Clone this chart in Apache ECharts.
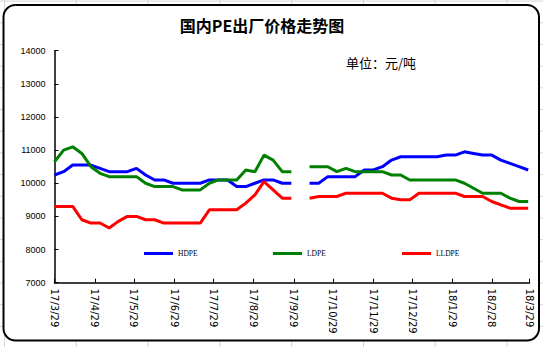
<!DOCTYPE html>
<html>
<head>
<meta charset="utf-8">
<script src="https://cdn.jsdelivr.net/npm/echarts@6/dist/echarts.min.js"></script>
<style>
html,body{margin:0;padding:0;width:543px;height:347px;overflow:hidden;}
body{
  background-color:#fff;
  background-image:linear-gradient(to right,#d4d4d4 1px,transparent 1px),linear-gradient(to bottom,#d4d4d4 1px,transparent 1px);
  background-size:71.8px 21.7px;
  background-position:4px 0.6px;
}
#chart{width:543px;height:347px;}
</style>
</head>
<body>
<div id="chart"></div>
<script>
const weekDates = [
  '2017-03-29','2017-04-05','2017-04-12','2017-04-19','2017-04-26','2017-05-03','2017-05-10','2017-05-17','2017-05-24','2017-05-31',
  '2017-06-07','2017-06-14','2017-06-21','2017-06-28','2017-07-05','2017-07-12','2017-07-19','2017-07-26','2017-08-02','2017-08-09',
  '2017-08-16','2017-08-23','2017-08-30','2017-09-06','2017-09-13','2017-09-20','2017-09-27','2017-10-04','2017-10-11','2017-10-18',
  '2017-10-25','2017-11-01','2017-11-08','2017-11-15','2017-11-22','2017-11-29','2017-12-06','2017-12-13','2017-12-20','2017-12-27',
  '2018-01-03','2018-01-10','2018-01-17','2018-01-24','2018-01-31','2018-02-07','2018-02-14','2018-02-21','2018-02-28','2018-03-07',
  '2018-03-14','2018-03-21','2018-03-28'
];
const hdpe = [
  10250,10350,10550,10550,10550,10450,10350,10350,10350,10450,
  10250,10100,10100,10000,10000,10000,10000,10100,10100,10100,
  9900,9900,10000,10100,10100,10000,10000,null,10000,10000,
  10200,10200,10200,10200,10400,10400,10500,10700,10800,10800,
  10800,10800,10800,10850,10850,10950,10900,10850,10850,10700,
  10600,10500,10400
];
const ldpe = [
  10650,11000,11100,10900,10500,10300,10200,10200,10200,10200,
  10000,9900,9900,9900,9800,9800,9800,10000,10100,10100,
  10100,10400,10350,10850,10700,10350,10350,null,10500,10500,
  10500,10350,10450,10350,10350,10350,10350,10250,10250,10100,
  10100,10100,10100,10100,10100,10000,9850,9700,9700,9700,
  9550,9450,9450
];
const lldpe = [
  9300,9300,9300,8900,8800,8800,8650,8850,9000,9000,
  8900,8900,8800,8800,8800,8800,8800,9200,9200,9200,
  9200,9400,9650,10050,9800,9550,9550,null,9550,9600,
  9600,9600,9700,9700,9700,9700,9700,9550,9500,9500,
  9700,9700,9700,9700,9700,9600,9600,9600,9450,9350,
  9250,9250,9250
];
const tickDates = [
  '2017-03-29','2017-04-29','2017-05-29','2017-06-29','2017-07-29','2017-08-29','2017-09-29',
  '2017-10-29','2017-11-29','2017-12-29','2018-01-29','2018-02-28','2018-03-29'
];
const seriesNames = ['HDPE','LDPE','LLDPE'];
const titleText = '国内PE出厂价格走势图';
const unitText = '单位：元/吨';

const DAY = 86400000;
function toDate(s){const p=s.split('-');return new Date(Date.UTC(+p[0],+p[1]-1,+p[2]));}
const t0 = toDate(tickDates[0]).getTime();
function dayNum(s){return Math.round((toDate(s).getTime()-t0)/DAY);}
function pairs(vals){return weekDates.map((d,i)=>[dayNum(d),vals[i]]);}
function fmt(v){const d=new Date(t0+v*DAY);return String(d.getUTCFullYear()).slice(2)+'/'+(d.getUTCMonth()+1)+'/'+d.getUTCDate();}
const tickDays = tickDates.map(dayNum);

const chart = echarts.init(document.getElementById('chart'), null, {renderer:'svg'});
const colors = ['#0000FF','#008000','#FF0000'];
const legendLefts = [144, 273, 402];

chart.setOption({
  animation:false,
  backgroundColor:'transparent',
  graphic:[{
    type:'rect', z:-10, silent:true,
    shape:{x:3.5,y:5,width:535.5,height:335.5,r:12},
    style:{fill:'#fff',stroke:'#000',lineWidth:2}
  }],
  title:[
    {text:titleText,left:262,top:17,textAlign:'center',padding:0,
     textStyle:{fontSize:16,fontWeight:'bold',color:'#000',fontFamily:'"Noto Sans CJK SC", sans-serif'}},
    {text:unitText,left:346,top:56,padding:0,
     textStyle:{fontSize:13,fontWeight:'normal',color:'#000',fontFamily:'"Noto Sans CJK SC", sans-serif'}}
  ],
  legend: seriesNames.map((n,i)=>({
    data:[n], left:legendLefts[i], top:249.5, padding:0,
    icon:'rect', itemWidth:29, itemHeight:3,
    textStyle:{fontSize:7.5,color:'#000',fontFamily:'"Liberation Serif", serif'}
  })),
  grid:{left:54.5,right:13.5,top:50.7,bottom:64.3,containLabel:false},
  xAxis:{
    type:'value',
    min:tickDays[0], max:tickDays[tickDays.length-1],
    axisLine:{show:true,onZero:false,lineStyle:{color:'#000',width:1.5}},
    axisTick:{show:true,inside:true,length:4,lineStyle:{color:'#000',width:1},customValues:tickDays},
    axisLabel:{show:true,rotate:-90,margin:6,fontSize:10,color:'#000',fontFamily:'"DejaVu Sans", sans-serif',
      customValues:tickDays,formatter:fmt},
    splitLine:{show:false}
  },
  yAxis:{
    type:'value',min:7000,max:14000,interval:1000,
    axisLine:{show:true,lineStyle:{color:'#000',width:1.5}},
    axisTick:{show:true,inside:true,length:4,lineStyle:{color:'#000',width:1}},
    axisLabel:{fontSize:9,color:'#000',margin:9,fontFamily:'"Liberation Sans", Arial, sans-serif',
      formatter:function(v){return String(v);}},
    splitLine:{show:false}
  },
  series:[hdpe,ldpe,lldpe].map((vals,i)=>({
    name:seriesNames[i], type:'line', data:pairs(vals),
    showSymbol:false, symbol:'none', connectNulls:false,
    lineStyle:{color:colors[i],width:3}, itemStyle:{color:colors[i]}
  }))
});
</script>
</body>
</html>
